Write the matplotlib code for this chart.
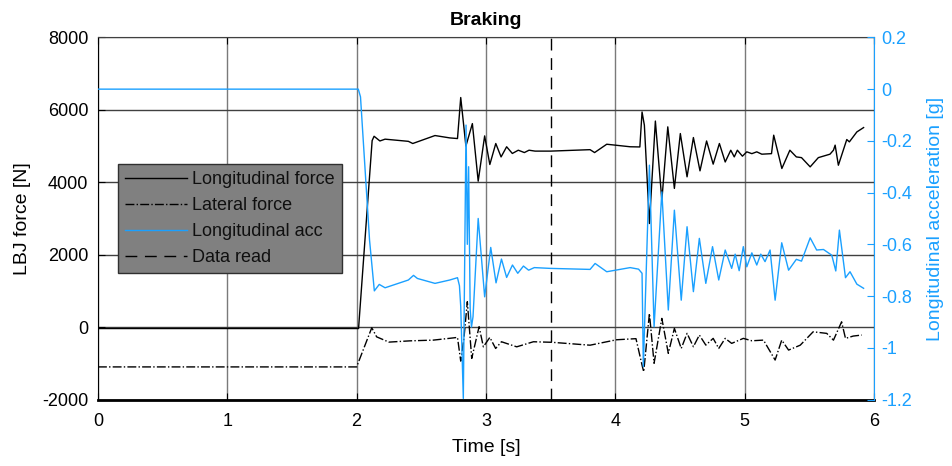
import numpy as np
import matplotlib
matplotlib.use("Agg")
import matplotlib.pyplot as plt

plt.rcParams['font.family'] = ['Liberation Sans', 'DejaVu Sans']
plt.rcParams['axes.unicode_minus'] = False

# longitudinal force [N]
t_long = [0.0, 2.0, 2.015, 2.12, 2.135, 2.18, 2.22, 2.40, 2.434, 2.606, 2.72, 2.78,
          2.805, 2.845, 2.895, 2.94, 2.99, 3.03, 3.076, 3.117, 3.16, 3.204, 3.25,
          3.297, 3.333, 3.38, 3.50, 3.805, 3.84, 3.934, 4.115, 4.19, 4.207, 4.225,
          4.264, 4.31, 4.36, 4.406, 4.457, 4.503, 4.555, 4.604, 4.655, 4.706, 4.757,
          4.805, 4.85, 4.893, 4.92, 4.944, 4.983, 5.017, 5.056, 5.094, 5.133, 5.208,
          5.225, 5.288, 5.35, 5.40, 5.44, 5.507, 5.57, 5.66, 5.687, 5.70, 5.725,
          5.79, 5.81, 5.868, 5.92]
f_long = [-40, -40, -40, 5150, 5270, 5140, 5190, 5130, 5070, 5290, 5225, 5207,
          6340, 5000, 5620, 4030, 5280, 4490, 5070, 4700, 4980, 4795, 4885,
          4820, 4885, 4860, 4860, 4900, 4820, 5050, 4980, 4975, 5940, 5575,
          2860, 5690, 3505, 5530, 3830, 5345, 4150, 5235, 4315, 5140, 4500,
          5070, 4560, 4885, 4700, 4885, 4720, 4840, 4790, 4840, 4775, 4790,
          5300, 4380, 4885, 4700, 4680, 4425, 4680, 4775, 4885, 5025, 4470,
          5180, 5115, 5390, 5510]

# lateral force [N]
t_lat = [0.0, 2.0, 2.117, 2.155, 2.25, 2.413, 2.593, 2.72, 2.78, 2.805, 2.83,
         2.856, 2.89, 2.947, 2.98, 3.03, 3.075, 3.12, 3.238, 3.367, 3.51, 3.805,
         4.01, 4.16, 4.21, 4.22, 4.264, 4.30, 4.36, 4.41, 4.457, 4.51, 4.555,
         4.604, 4.65, 4.70, 4.757, 4.80, 4.85, 4.90, 4.99, 5.056, 5.146, 5.236,
         5.287, 5.34, 5.43, 5.53, 5.635, 5.687, 5.75, 5.78, 5.84, 5.906]
f_lat = [-1100, -1100, -20, -270, -415, -380, -360, -310, -285, -940, -300,
         700, -865, 10, -545, -285, -590, -405, -545, -405, -420, -500,
         -350, -320, -1096, -1233, 378, -1000, 240, -725, -36, -590, -174,
         -543, -220, -497, -312, -590, -312, -450, -312, -378, -360, -910,
         -360, -635, -500, -130, -174, -360, 146, -312, -248, -220]

# longitudinal acceleration [g]
t_acc = [0.0, 2.013, 2.03, 2.10, 2.137, 2.175, 2.22, 2.40, 2.44, 2.47, 2.606,
         2.72, 2.78, 2.795, 2.805, 2.825, 2.846, 2.856, 2.866, 2.878, 2.888,
         2.90, 2.94, 2.99, 3.037, 3.078, 3.12, 3.16, 3.205, 3.246, 3.29, 3.33,
         3.374, 3.496, 3.805, 3.844, 3.934, 4.115, 4.18, 4.207, 4.217,
         4.264, 4.30, 4.36, 4.41, 4.457, 4.51, 4.555, 4.604, 4.65, 4.70,
         4.752, 4.80, 4.85, 4.90, 4.927, 4.958, 4.99, 5.017, 5.056, 5.094,
         5.125, 5.158, 5.197, 5.236, 5.287, 5.34, 5.40, 5.44, 5.507, 5.557,
         5.61, 5.674, 5.705, 5.733, 5.78, 5.815, 5.868, 5.92]
a_long = [0.0, 0.0, -0.03, -0.584, -0.78, -0.755, -0.768, -0.738, -0.72, -0.732, -0.751,
          -0.738, -0.729, -0.76, -0.84, -1.196, -0.139, -0.60, -0.30, -0.85, -0.92,
          -0.88, -0.50, -0.803, -0.612, -0.749, -0.657, -0.728, -0.68, -0.712, -0.684, -0.70,
          -0.69, -0.693, -0.697, -0.674, -0.706, -0.69, -0.696, -0.712, -1.073,
          -0.294, -0.919, -0.397, -0.854, -0.468, -0.816, -0.532, -0.783, -0.577, -0.751,
          -0.609, -0.738, -0.622, -0.693, -0.638, -0.702, -0.609, -0.687, -0.633, -0.680,
          -0.638, -0.667, -0.622, -0.816, -0.594, -0.70, -0.658, -0.665, -0.575, -0.622,
          -0.62, -0.642, -0.703, -0.545, -0.729, -0.706, -0.754, -0.77]

t_read = 3.5
blue = '#1AA0FF'

fig = plt.figure(figsize=(9.52, 4.66), dpi=100)
ax = fig.add_axes([0.1029, 0.1427, 0.8151, 0.777])
ax2 = ax.twinx()

h1, = ax.plot(t_long, f_long, color='black', lw=1.0, label='Longitudinal force')
h2, = ax.plot(t_lat, f_lat, color='black', lw=1.0, ls='-.', label='Lateral force')
h4, = ax.plot([t_read, t_read], [-2000, 8000], color='black', lw=1.0,
              dashes=(8.5, 5.5), label='Data read')
h3, = ax2.plot(t_acc, a_long, color=blue, lw=1.0, label='Longitudinal acc')

ax.set_xlim(0, 6)
ax.set_ylim(-2000, 8000)
ax2.set_ylim(-1.2, 0.2)
ax.set_xticks(range(7))
ax.set_yticks(range(-2000, 8001, 2000))
ax2.set_yticks(np.arange(-1.2, 0.21, 0.2))
ax2.set_yticklabels(['-1.2', '-1', '-0.8', '-0.6', '-0.4', '-0.2', '0', '0.2'])

ax.xaxis.grid(True, color='#7a7a7a', lw=1.0)
ax.yaxis.grid(True, color='#404040', lw=1.0)
ax.set_axisbelow(True)

ax.tick_params(direction='in', labelsize=13, length=5, top=True)
ax.tick_params(axis='x', pad=10)
ax.tick_params(axis='y', pad=7)
ax2.tick_params(direction='in', labelsize=13, length=5, colors=blue, pad=5)
ax2.spines['right'].set_color(blue)
ax2.spines['left'].set_visible(False)
ax2.spines['top'].set_visible(False)
ax2.spines['bottom'].set_visible(False)
ax.spines['bottom'].set_linewidth(2.0)
ax.spines['top'].set_color('#404040')
ax.spines['right'].set_visible(False)

ax.set_xlabel('Time [s]', fontsize=14, labelpad=6)
ax.set_ylabel('LBJ force [N]', fontsize=14, labelpad=8)
ax2.set_ylabel('Longitudinal acceleration [g]', fontsize=14, color=blue, labelpad=11)
ax.set_title('Braking', fontsize=14, fontweight='bold', pad=9)

leg = ax2.legend(handles=[h1, h2, h3, h4], loc='lower left',
                 bbox_to_anchor=(0.026, 0.349), borderaxespad=0, fontsize=13,
                 frameon=True, fancybox=False, framealpha=1.0, borderpad=0.4,
                 handlelength=3.4, handletextpad=0.3, labelspacing=0.5)
leg.get_frame().set_facecolor('#808080')
leg.get_frame().set_edgecolor('#303030')
for txt in leg.get_texts():
    txt.set_color('#101010')

fig.savefig('out.png', dpi=100)
